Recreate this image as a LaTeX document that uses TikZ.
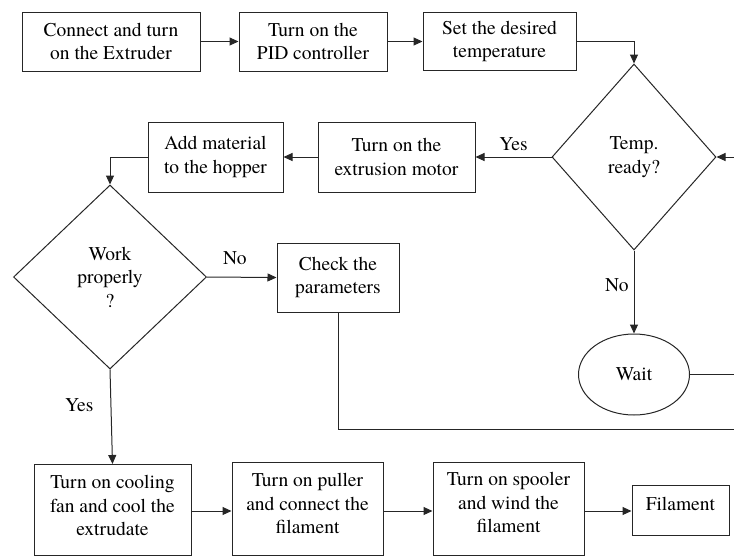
\documentclass[tikz,border=0pt]{standalone}
\usepackage{fontspec}
\newfontfamily\diagfont{texgyretermes}[Extension=.otf, UprightFont=*-regular]
\usetikzlibrary{arrows.meta,shapes.geometric}
\begin{document}
\begin{tikzpicture}[x=1pt,y=-1pt,
  every node/.style={font=\diagfont\fontsize{19.5}{23.5}\selectfont, text=black},
  box/.style={draw=black!85, line width=1pt, align=center, inner sep=0pt},
  decision/.style={draw=black!85, line width=1pt, diamond, align=center, inner sep=0pt},
  terminal/.style={draw=black!85, line width=1pt, ellipse, inner sep=0pt},
  line/.style={draw=black!85, line width=1pt},
  arrow/.style={line, -{Triangle[length=9pt,width=8pt]}},
  lbl/.style={inner sep=2pt}]
\useasboundingbox (0,0) rectangle (734,555);
\clip (0,0) rectangle (734,555);

% top row
\node[box, minimum width=178pt, minimum height=59pt] (n1) at (111,41.5) {Connect and turn\\on the Extruder};
\node[box, minimum width=148pt, minimum height=59pt] (n2) at (313,41.5) {Turn on the\\PID controller};
\node[box, minimum width=153pt, minimum height=58pt] (n3) at (499.5,41.5) {Set the desired\\temperature};

\node[decision, minimum width=164pt, minimum height=186pt] (d1) at (634,157) {Temp.\\ready?};

\node[box, minimum width=157pt, minimum height=70pt] (n4) at (396.5,157) {Turn on the\\extrusion motor};
\node[box, minimum width=135pt, minimum height=70pt] (n5) at (215.5,157) {Add material\\to the hopper};

\node[decision, minimum width=193pt, minimum height=184pt] (d2) at (110,277) {Work\\properly\\?};

\node[box, minimum width=122pt, minimum height=69pt] (n6) at (338,277.5) {Check the\\parameters};

\node[terminal, minimum width=111pt, minimum height=81pt] (e1) at (634,374.5) {Wait};

% bottom row
\node[box, anchor=north] (n7) at (112.5,464) {\parbox[c][91pt][t]{157pt}{\centering\vspace*{11pt}Turn on cooling\\fan and cool the\\extrudate}};
\node[box, anchor=north] (n8) at (307.5,462) {\parbox[c][93pt][t]{151pt}{\centering\vspace*{11pt}Turn on puller\\and connect the\\filament}};
\node[box, anchor=north] (n9) at (508.5,462) {\parbox[c][93pt][t]{151pt}{\centering\vspace*{10pt}Turn on spooler\\and wind the\\filament}};
\node[box, anchor=north] (n10) at (680.5,485) {\parbox[c][50pt][t]{97pt}{\centering\vspace*{12pt}Filament}};

\coordinate (r1) at (734,157);
\coordinate (r2) at (734,374.5);
\coordinate (r3) at (734,429);

% connectors
\draw[arrow] (n1.east) -- (n2.west);
\draw[arrow] (n2.east) -- (n3.west);
\draw[arrow] (n3.east) -| (d1.north);
\draw[arrow] (r1) -- (d1.east);
\draw[arrow] (d1.west) -- node[lbl, above=4pt] {Yes} (n4.east);
\draw[arrow] (n4.west) -- (n5.east);
\draw[arrow] (n5.west) -| (d2.north);
\draw[arrow] (d2.east) -- node[lbl, pos=0.4, above=10pt] {No} (n6.west);
\draw[arrow] (d1.south) -- node[lbl, pos=0.42, left=3pt] {No} (e1.north);
\draw[line] (e1.east) -- (r2);
\draw[line] (n6.south) |- (r3);
\draw[arrow] (d2.south) -- node[lbl, pos=0.38, left=15pt] {Yes} (n7.north);
\draw[arrow] (n7.east |- 0,511) -- (n8.west |- 0,511);
\draw[arrow] (n8.east |- 0,511) -- (n9.west |- 0,511);
\draw[arrow] (n9.east |- 0,511) -- (n10.west |- 0,511);
\end{tikzpicture}
\end{document}
